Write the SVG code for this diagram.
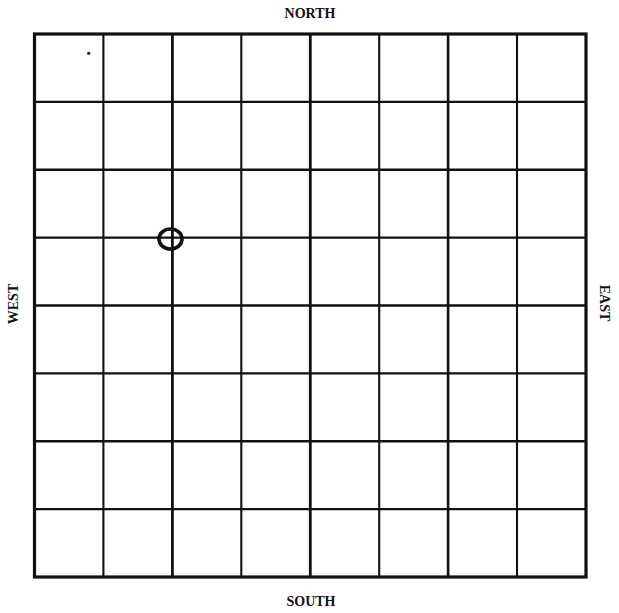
<svg xmlns="http://www.w3.org/2000/svg" width="619" height="613" viewBox="0 0 619 613">
<style>
.lbl{font-family:"Liberation Serif","Times New Roman",serif;font-weight:bold;font-size:14px;fill:#111;text-anchor:middle}
.grid line{stroke:#111;stroke-width:2.1}
.border{fill:none;stroke:#111;stroke-width:3.2}
</style>
<rect width="619" height="613" fill="#fff"/>
<g id="grid" class="grid">
<line x1="103.4" y1="34" x2="103.4" y2="577"/>
<line x1="172.4" y1="34" x2="172.4" y2="577" style="stroke-width:2.8"/>
<line x1="241.3" y1="34" x2="241.3" y2="577"/>
<line x1="310.3" y1="34" x2="310.3" y2="577" style="stroke-width:2.8"/>
<line x1="379.2" y1="34" x2="379.2" y2="577"/>
<line x1="448.1" y1="34" x2="448.1" y2="577" style="stroke-width:2.6"/>
<line x1="517" y1="34" x2="517" y2="577"/>
<line x1="34.5" y1="101.9" x2="586" y2="101.9"/>
<line x1="34.5" y1="169.8" x2="586" y2="169.8" style="stroke-width:2.6"/>
<line x1="34.5" y1="237.6" x2="586" y2="237.6"/>
<line x1="34.5" y1="305.5" x2="586" y2="305.5" style="stroke-width:2.6"/>
<line x1="34.5" y1="373.4" x2="586" y2="373.4"/>
<line x1="34.5" y1="441.3" x2="586" y2="441.3" style="stroke-width:2.6"/>
<line x1="34.5" y1="509.1" x2="586" y2="509.1"/>
</g>
<rect id="border" class="border" x="34.5" y="34" width="551.5" height="543"/>
<g id="marker">
<ellipse cx="170.5" cy="239" rx="11.5" ry="10" fill="none" stroke="#111" stroke-width="3.6"/>
<circle cx="88.7" cy="53.3" r="1.6" fill="#111"/>
</g>
<g id="labels">
<text class="lbl" x="310" y="18">NORTH</text>
<text class="lbl" x="311" y="606">SOUTH</text>
<text class="lbl" transform="translate(18,304) rotate(-90)">WEST</text>
<text class="lbl" transform="translate(600,303) rotate(90)">EAST</text>
</g>
</svg>
